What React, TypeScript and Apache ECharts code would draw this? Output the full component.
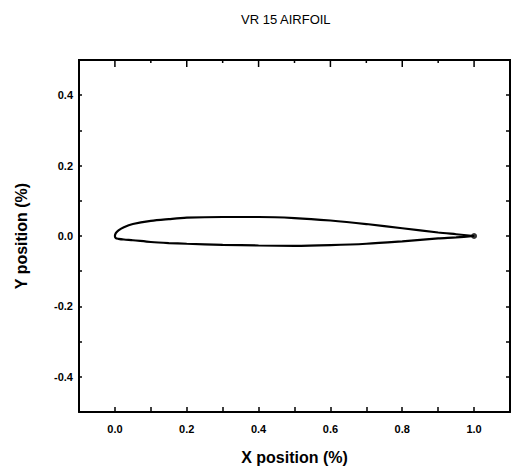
import React, { useEffect, useRef } from "react";
import * as echarts from "echarts";

const titleText = "VR 15 AIRFOIL";
const xName = "X position (%)";
const yName = "Y position (%)";

const upperX = [1.0, 0.95, 0.9, 0.8, 0.7, 0.6, 0.5, 0.4, 0.3, 0.2, 0.15, 0.1, 0.05, 0.025, 0.01, 0.0025, 0];
const upperY = [0, 0.005, 0.01, 0.022, 0.034, 0.044, 0.051, 0.054, 0.054, 0.052, 0.048, 0.043, 0.034, 0.025, 0.016, 0.008, 0];
const lowerX = [0.0025, 0.01, 0.025, 0.05, 0.1, 0.15, 0.2, 0.3, 0.4, 0.5, 0.6, 0.7, 0.8, 0.9, 0.95, 1.0];
const lowerY = [-0.006, -0.008, -0.01, -0.012, -0.017, -0.02, -0.022, -0.025, -0.027, -0.028, -0.026, -0.022, -0.015, -0.007, -0.004, 0];

const trailingEdge = [[1.0, 0]];

const topTicks = [0, 0.1, 0.2, 0.3, 0.4, 0.5, 0.6, 0.7, 0.8, 0.9, 1.0];
const topMajor = [0, 0.2, 0.4, 0.6, 0.8, 1.0];

const X_MIN = -0.1;
const X_MAX = 1.1;
const Y_MIN = -0.5;
const Y_MAX = 0.5;
const STEP = 0.1;

const INK = "#000";
const FONT = "'Liberation Sans', Arial, sans-serif";

const evenTenths = (v: number) => {
  const k = Math.round(v * 10);
  return k % 2 === 0 ? (k / 10).toFixed(1) : "";
};

export default function App() {
  const ref = useRef<HTMLDivElement>(null);
  useEffect(() => {
    if (!ref.current) return;
    const chart = echarts.init(ref.current, undefined, { renderer: "svg" });
    const airfoil: number[][] = [];
    upperX.forEach((x, i) => airfoil.push([x, upperY[i]]));
    lowerX.forEach((x, i) => airfoil.push([x, lowerY[i]]));

    chart.setOption({
      animation: false,
      title: {
        text: titleText,
        left: 236,
        top: 8,
        textStyle: { fontFamily: FONT, fontSize: 13, fontWeight: "normal", color: INK },
      },
      grid: { left: 79, right: 1, top: 60, bottom: 56, containLabel: false },
      xAxis: [
        {
          type: "value",
          position: "bottom",
          min: X_MIN,
          max: X_MAX,
          interval: STEP,
          name: xName,
          nameLocation: "middle",
          nameGap: 37,
          nameTextStyle: { fontFamily: FONT, fontSize: 16, fontWeight: "bold", color: INK },
          splitLine: { show: false },
          axisLine: { show: true, onZero: false, lineStyle: { color: INK, width: 2 } },
          axisTick: { show: true, inside: true, length: 5, lineStyle: { color: INK, width: 1.5 } },
          axisLabel: {
            show: true,
            margin: 11,
            fontFamily: FONT,
            fontSize: 11,
            fontWeight: "bold",
            color: INK,
            formatter: evenTenths,
          },
        },
      ],
      yAxis: [
        {
          type: "value",
          position: "left",
          min: Y_MIN,
          max: Y_MAX,
          interval: STEP,
          name: yName,
          nameLocation: "middle",
          nameGap: 50,
          nameRotate: 90,
          nameTextStyle: { fontFamily: FONT, fontSize: 16, fontWeight: "bold", color: INK },
          splitLine: { show: false },
          axisLine: { show: true, onZero: false, lineStyle: { color: INK, width: 2 } },
          axisTick: { show: true, inside: true, length: 3, lineStyle: { color: INK, width: 1.5 } },
          axisLabel: {
            show: true,
            margin: 6,
            fontFamily: FONT,
            fontSize: 11,
            fontWeight: "bold",
            color: INK,
            formatter: evenTenths,
          },
        },
        {
          type: "value",
          position: "right",
          min: Y_MIN,
          max: Y_MAX,
          interval: STEP,
          splitLine: { show: false },
          axisLine: { show: true, onZero: false, lineStyle: { color: INK, width: 2 } },
          axisTick: { show: true, inside: true, length: 4, lineStyle: { color: INK, width: 1.5 } },
          axisLabel: { show: false },
        },
      ],
      series: [
        {
          type: "line",
          data: airfoil,
          xAxisIndex: 0,
          yAxisIndex: 0,
          smooth: 0.3,
          showSymbol: false,
          symbol: "none",
          lineStyle: { color: INK, width: 2.2 },
        },
        {
          type: "scatter",
          data: trailingEdge,
          xAxisIndex: 0,
          yAxisIndex: 0,
          symbolSize: 6,
          itemStyle: { color: INK },
        },
      ],
    });

    // Top frame edge and its ticks, positioned through the chart's own scales.
    const finder = { xAxisIndex: 0, yAxisIndex: 0 };
    const pL = chart.convertToPixel(finder, [X_MIN, Y_MAX]) as number[];
    const pR = chart.convertToPixel(finder, [X_MAX, Y_MAX]) as number[];
    const elements: any[] = [
      {
        type: "line",
        z: 100,
        shape: { x1: pL[0] - 1, y1: pL[1], x2: pR[0] + 1, y2: pR[1] },
        style: { stroke: INK, lineWidth: 2 },
      },
    ];
    topTicks.forEach((v) => {
      const p = chart.convertToPixel(finder, [v, Y_MAX]) as number[];
      const len = topMajor.some((m) => Math.abs(m - v) < 1e-9) ? 7 : 3;
      elements.push({
        type: "line",
        z: 100,
        shape: { x1: p[0], y1: p[1], x2: p[0], y2: p[1] + len },
        style: { stroke: INK, lineWidth: 1.5 },
      });
    });
    chart.setOption({ graphic: { elements } });

    return () => chart.dispose();
  }, []);
  return (
    <div
      ref={ref}
      style={{ position: "absolute", left: 0, top: 0, width: 513, height: 470 }}
    />
  );
}
